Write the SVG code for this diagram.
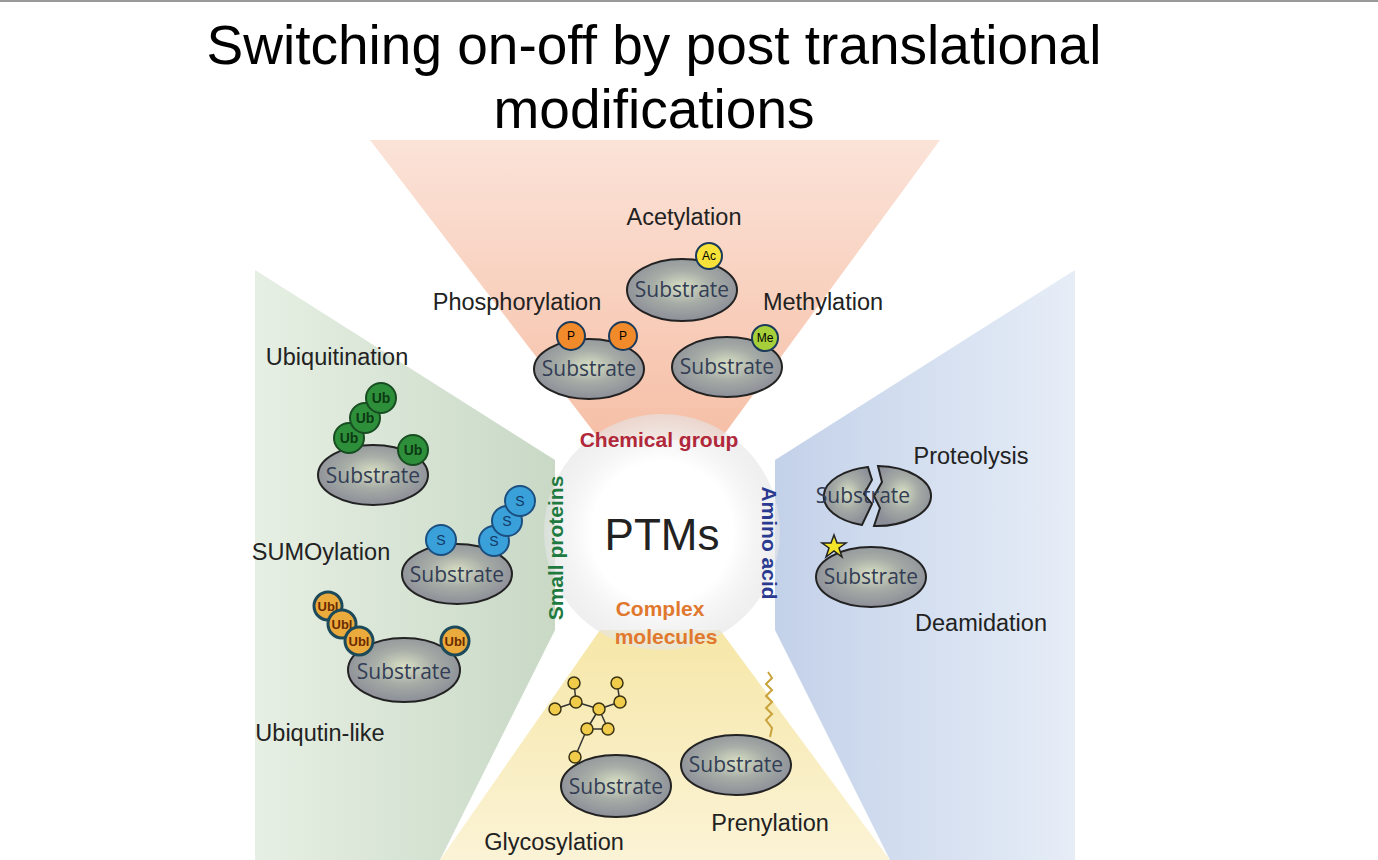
<svg xmlns="http://www.w3.org/2000/svg" width="1378" height="860" viewBox="0 0 1378 860">
<defs>
<radialGradient id="sg" cx="50%" cy="45%" r="55%"><stop offset="0" stop-color="#d9e0c4"/><stop offset="0.5" stop-color="#a6aca6"/><stop offset="1" stop-color="#8c8f98"/></radialGradient>
<radialGradient id="cg" cx="50%" cy="50%" r="50%"><stop offset="0.6" stop-color="#ffffff"/><stop offset="1" stop-color="#e4e4e6" stop-opacity="0.6"/></radialGradient>
<linearGradient id="gt" x1="0" y1="0" x2="0" y2="1"><stop offset="0" stop-color="#fbe3d8"/><stop offset="1" stop-color="#f6bfa6"/></linearGradient>
<linearGradient id="gl" x1="0" y1="0" x2="1" y2="0"><stop offset="0" stop-color="#e6efe3"/><stop offset="1" stop-color="#c9d9c6"/></linearGradient>
<linearGradient id="gr" x1="1" y1="0" x2="0" y2="0"><stop offset="0" stop-color="#e6edf7"/><stop offset="1" stop-color="#c3d1e9"/></linearGradient>
<linearGradient id="gb" x1="0" y1="1" x2="0" y2="0"><stop offset="0" stop-color="#fbf3d6"/><stop offset="1" stop-color="#f6e7a8"/></linearGradient>
</defs>
<style>
.sub{fill:url(#sg);stroke:#222;stroke-width:2}
.st{font-family:"Open Sans","Liberation Sans",sans-serif;font-size:21px;fill:#333d55;text-anchor:middle}
.lb{font-family:"Liberation Sans",Arial,sans-serif;font-size:23.5px;fill:#222;text-anchor:middle}
.m{stroke:#1b3b5c;stroke-width:2}
.mt{font-family:"Liberation Sans",sans-serif;font-size:12px;text-anchor:middle}
.ub{fill:#2e8f3a;stroke:#184d22;stroke-width:2}
.ubt{font-family:"Liberation Sans",sans-serif;font-size:14px;font-weight:bold;fill:#0d3a14;text-anchor:middle}
.su{fill:#3aa0da;stroke:#1b4f80;stroke-width:2}
.sut{font-family:"Liberation Sans",sans-serif;font-size:14px;fill:#123a66;text-anchor:middle}
.ul{fill:#eaaa3c;stroke:#1d4a5a;stroke-width:3}
.ult{font-family:"Liberation Sans",sans-serif;font-size:13px;font-weight:bold;fill:#6b2b00;text-anchor:middle}
.gly{fill:#f0cc4a;stroke:#3a3310;stroke-width:1.5}
</style>
<rect width="1378" height="860" fill="#fff"/>
<line x1="0" y1="1" x2="1378" y2="1" stroke="#999" stroke-width="2"/>
<g id="background">
<polygon points="370,140 940,140 720,440 600,440" fill="url(#gt)"/>
<polygon points="255,270 255,860 440,860 555,630 555,460" fill="url(#gl)"/>
<polygon points="1075,270 1075,860 890,860 775,630 775,460" fill="url(#gr)"/>
<polygon points="440,860 890,860 720,630 600,630" fill="url(#gb)"/>
<circle cx="662" cy="532" r="118" fill="url(#cg)"/>
</g>
<g id="title" font-family="Liberation Sans,Arial,sans-serif" font-size="55" fill="#000" text-anchor="middle">
<text x="654" y="64">Switching on-off by post translational</text>
<text x="654" y="128">modifications</text>
</g>
<g id="center">
<text x="662" y="550" font-family="Liberation Sans,sans-serif" font-size="44" text-anchor="middle" fill="#222">PTMs</text>
<text x="659" y="447" font-family="Liberation Sans,sans-serif" font-size="21" font-weight="bold" text-anchor="middle" fill="#b0283a">Chemical group</text>
<text x="660" y="616" font-family="Liberation Sans,sans-serif" font-size="21" font-weight="bold" text-anchor="middle" fill="#e0782e">Complex</text>
<text x="666" y="644" font-family="Liberation Sans,sans-serif" font-size="21" font-weight="bold" text-anchor="middle" fill="#e0782e">molecules</text>
<text transform="translate(563,548) rotate(-90)" font-family="Liberation Sans,sans-serif" font-size="21" font-weight="bold" text-anchor="middle" fill="#1f7a40">Small proteins</text>
<text transform="translate(762,543) rotate(90)" font-family="Liberation Sans,sans-serif" font-size="21" font-weight="bold" text-anchor="middle" fill="#2a3a90">Amino acid</text>
</g>
<g id="acetylation">
<text class="lb" x="684" y="225">Acetylation</text>
<ellipse class="sub" cx="682" cy="290" rx="55" ry="31"/><text class="st" x="682" y="297">Substrate</text>
<circle class="m" cx="709" cy="256" r="13" fill="#f7e23a"/><text class="mt" x="709" y="260">Ac</text>
</g>
<g id="phosphorylation">
<text class="lb" x="517" y="310">Phosphorylation</text>
<ellipse class="sub" cx="589" cy="369" rx="55" ry="30"/><text class="st" x="589" y="376">Substrate</text>
<circle class="m" cx="571" cy="336" r="14" fill="#f08a2a"/><text class="mt" x="571" y="340">P</text>
<circle class="m" cx="623" cy="336" r="14" fill="#f08a2a"/><text class="mt" x="623" y="340">P</text>
</g>
<g id="methylation">
<text class="lb" x="823" y="310">Methylation</text>
<ellipse class="sub" cx="727" cy="367" rx="55" ry="30"/><text class="st" x="727" y="374">Substrate</text>
<circle class="m" cx="765" cy="338" r="13" fill="#a6cf3a"/><text class="mt" x="765" y="342">Me</text>
</g>
<g id="ubiquitination">
<text class="lb" x="337" y="365">Ubiquitination</text>
<ellipse class="sub" cx="373" cy="475" rx="55" ry="30"/><text class="st" x="373" y="483">Substrate</text>
<circle class="ub" cx="349" cy="438" r="15"/><text class="ubt" x="349" y="443">Ub</text>
<circle class="ub" cx="365" cy="418" r="15"/><text class="ubt" x="365" y="423">Ub</text>
<circle class="ub" cx="381" cy="398" r="15"/><text class="ubt" x="381" y="403">Ub</text>
<circle class="ub" cx="413" cy="450" r="15"/><text class="ubt" x="413" y="455">Ub</text>
</g>
<g id="sumoylation">
<text class="lb" x="321" y="560">SUMOylation</text>
<ellipse class="sub" cx="457" cy="574" rx="55" ry="30"/><text class="st" x="457" y="582">Substrate</text>
<circle class="su" cx="441" cy="540" r="15"/><text class="sut" x="441" y="545">S</text>
<circle class="su" cx="494" cy="541" r="15"/><text class="sut" x="494" y="546">S</text>
<circle class="su" cx="507" cy="521" r="15"/><text class="sut" x="507" y="526">S</text>
<circle class="su" cx="520" cy="501" r="15"/><text class="sut" x="520" y="506">S</text>
</g>
<g id="ubiquitin-like">
<text class="lb" x="320" y="741">Ubiqutin-like</text>
<ellipse class="sub" cx="404" cy="670" rx="56" ry="32"/><text class="st" x="404" y="679">Substrate</text>
<circle class="ul" cx="328" cy="606" r="14"/><text class="ult" x="328" y="611">Ubl</text>
<circle class="ul" cx="342" cy="624" r="14"/><text class="ult" x="342" y="629">Ubl</text>
<circle class="ul" cx="359" cy="641" r="14"/><text class="ult" x="359" y="646">Ubl</text>
<circle class="ul" cx="455" cy="641" r="14"/><text class="ult" x="455" y="646">Ubl</text>
</g>
<g id="proteolysis">
<text class="lb" x="971" y="464">Proteolysis</text>
<path class="sub" d="M868,467 A55,30 0 0 0 862,525 L872,504 L864,494 L872,480 Z"/>
<path class="sub" d="M878,466 A55,30 0 0 1 874,526 L880,508 L874,496 L882,482 Z"/>
<text class="st" x="863" y="503">Substrate</text>
</g>
<g id="deamidation">
<text class="lb" x="981" y="631">Deamidation</text>
<ellipse class="sub" cx="871" cy="577" rx="55" ry="30"/><text class="st" x="871" y="584">Substrate</text>
<polygon points="834,535 837,543 846,543 839,548 842,557 834,551 826,557 829,548 822,543 831,543" fill="#f5e52a" stroke="#222" stroke-width="1.5"/>
</g>
<g id="glycosylation">
<text class="lb" x="554" y="850">Glycosylation</text>
<g stroke="#333" stroke-width="1.5">
<line x1="575" y1="757" x2="587" y2="729"/><line x1="587" y1="729" x2="608" y2="729"/><line x1="587" y1="729" x2="599" y2="709"/><line x1="608" y1="729" x2="599" y2="709"/>
<line x1="599" y1="709" x2="576" y2="702"/><line x1="599" y1="709" x2="620" y2="702"/><line x1="576" y1="702" x2="555" y2="709"/><line x1="576" y1="702" x2="574" y2="683"/><line x1="620" y1="702" x2="617" y2="683"/>
</g>
<circle class="gly" cx="575" cy="757" r="6"/><circle class="gly" cx="587" cy="729" r="6"/><circle class="gly" cx="608" cy="729" r="6"/><circle class="gly" cx="599" cy="709" r="6"/>
<circle class="gly" cx="576" cy="702" r="6"/><circle class="gly" cx="620" cy="702" r="6"/><circle class="gly" cx="555" cy="709" r="6"/><circle class="gly" cx="574" cy="683" r="6"/><circle class="gly" cx="617" cy="683" r="6"/>
<ellipse class="sub" cx="616" cy="786" rx="55" ry="31"/><text class="st" x="616" y="794">Substrate</text>
</g>
<g id="prenylation">
<text class="lb" x="770" y="831">Prenylation</text>
<polyline points="768,672 772,678 766,684 772,690 766,696 772,702 766,708 772,714 766,720 772,728 770,737" fill="none" stroke="#c9a23a" stroke-width="2"/>
<ellipse class="sub" cx="736" cy="765" rx="55" ry="30"/><text class="st" x="736" y="772">Substrate</text>
</g>
</svg>
